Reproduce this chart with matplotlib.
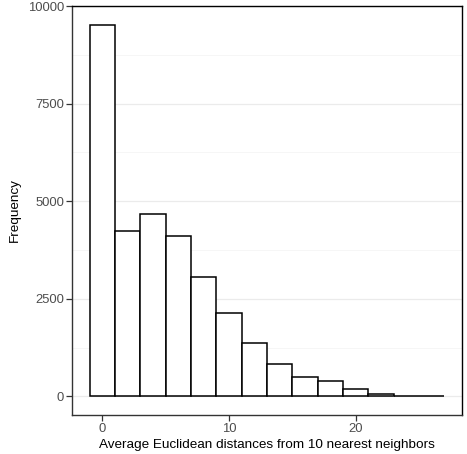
import numpy as np
import matplotlib
matplotlib.use("Agg")
from matplotlib import pyplot as plt

plt.rcParams['font.family'] = ['Liberation Sans', 'DejaVu Sans']

# histogram bins (width 2, centred on even values) and their counts
bin_centers = [0, 2, 4, 6, 8, 10, 12, 14, 16, 18, 20, 22, 24, 26]
counts = [9522, 4226, 4660, 4098, 3058, 2149, 1364, 835, 496, 393, 189, 70, 22, 10]
bin_width = 2

x_ticks = [0, 10, 20]
y_ticks = [0, 2500, 5000, 7500, 10000]

fig = plt.figure(figsize=(4.67, 4.54), dpi=100)
ax = fig.add_axes([72/467, 39/454, 390/467, 409/454])

ax.bar(bin_centers, counts, width=bin_width, color='white', edgecolor='black',
       linewidth=1.1, zorder=3)

# x range padded like ggplot's default 5% expansion
lo = bin_centers[0] - bin_width/2
hi = bin_centers[-1] + bin_width/2
pad = 0.05*(hi - lo)
ax.set_xlim(lo - pad, hi + pad)
ax.set_ylim(-0.05*max(counts), 1.05*max(counts))

ax.set_xticks(x_ticks)
ax.set_yticks(y_ticks)
ax.set_yticks([1250, 3750, 6250, 8750], minor=True)
ax.grid(axis='y', which='major', color='#ebebeb', linewidth=0.9, zorder=0)
ax.grid(axis='y', which='minor', color='#f5f5f5', linewidth=0.6, zorder=0)
ax.tick_params(axis='both', which='major', length=4, width=0.9, color='#333333',
               labelcolor='#4d4d4d', labelsize=9.4, pad=1.8)
ax.tick_params(axis='y', which='minor', length=0)

for side in ['top', 'right']:
    ax.spines[side].set_color('black')
    ax.spines[side].set_linewidth(1.0)
for side in ['left', 'bottom']:
    ax.spines[side].set_color('#333333')
    ax.spines[side].set_linewidth(1.0)

ax.set_xlabel("Average Euclidean distances from 10 nearest neighbors", fontsize=9.7, labelpad=3)
ax.set_ylabel("Frequency", fontsize=9.7, labelpad=5)

plt.savefig("out.png", dpi=100)
